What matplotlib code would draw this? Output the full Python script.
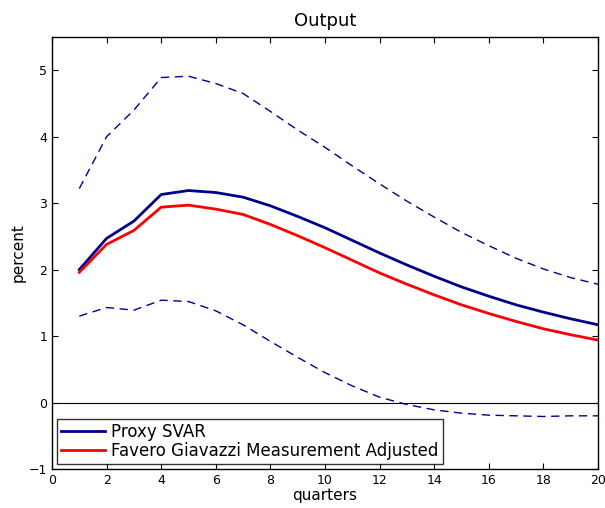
import numpy as np
import matplotlib
matplotlib.use("Agg")
import matplotlib.pyplot as plt

# impulse response of output, quarters 1..20
quarters = list(range(1, 21))
proxy_svar = [2.00, 2.47, 2.73, 3.13, 3.19, 3.16, 3.09, 2.96, 2.80, 2.63,
              2.44, 2.25, 2.07, 1.90, 1.74, 1.60, 1.47, 1.36, 1.26, 1.17]
fg_adjusted = [1.96, 2.38, 2.59, 2.94, 2.97, 2.91, 2.83, 2.68, 2.51, 2.33,
               2.14, 1.95, 1.78, 1.62, 1.47, 1.34, 1.22, 1.11, 1.02, 0.94]
band_upper = [3.22, 4.00, 4.40, 4.89, 4.91, 4.80, 4.65, 4.38, 4.10, 3.84,
              3.56, 3.29, 3.03, 2.79, 2.56, 2.36, 2.17, 2.01, 1.88, 1.78]
band_lower = [1.30, 1.43, 1.39, 1.54, 1.52, 1.38, 1.17, 0.92, 0.68, 0.45,
              0.25, 0.08, -0.03, -0.11, -0.16, -0.19, -0.20, -0.21, -0.20, -0.20]

plt.rcParams['font.family'] = ['DejaVu Sans']

fig = plt.figure(figsize=(6.05, 5.08), dpi=100)
ax = fig.add_axes([52 / 605, 39 / 508, 546 / 605, 432 / 508])

navy = '#00008b'
ax.plot(quarters, band_upper, '--', color=navy, linewidth=1.0, dashes=(6, 4))
ax.plot(quarters, band_lower, '--', color=navy, linewidth=1.0, dashes=(6, 4))
ax.plot(quarters, proxy_svar, color=navy, linewidth=2.0, label='Proxy SVAR')
ax.plot(quarters, fg_adjusted, color='red', linewidth=2.0,
        label='Favero Giavazzi Measurement Adjusted')
ax.axhline(0, color='black', linewidth=0.8)

ax.set_xlim(0, 20)
ax.set_ylim(-1, 5.5)
ax.set_xticks(range(0, 21, 2))
ax.set_yticks(range(-1, 6))
ax.set_yticklabels(['\u22121', '0', '1', '2', '3', '4', '5'])
ax.tick_params(direction='in', top=True, right=True, labelsize=9, length=4)
for s in ax.spines.values():
    s.set_linewidth(1.0)

ax.set_title('Output', fontsize=13, pad=8)
ax.set_xlabel('quarters', fontsize=11, labelpad=1)
ax.set_ylabel('percent', fontsize=11, labelpad=2)

leg = ax.legend(loc='lower left', fontsize=12, frameon=True, fancybox=False,
                borderaxespad=0.3, handlelength=2.6, borderpad=0.25,
                labelspacing=0.05, handletextpad=0.4)
leg.get_frame().set_edgecolor('black')
leg.get_frame().set_linewidth(1.0)

fig.savefig('out.png', dpi=100)
